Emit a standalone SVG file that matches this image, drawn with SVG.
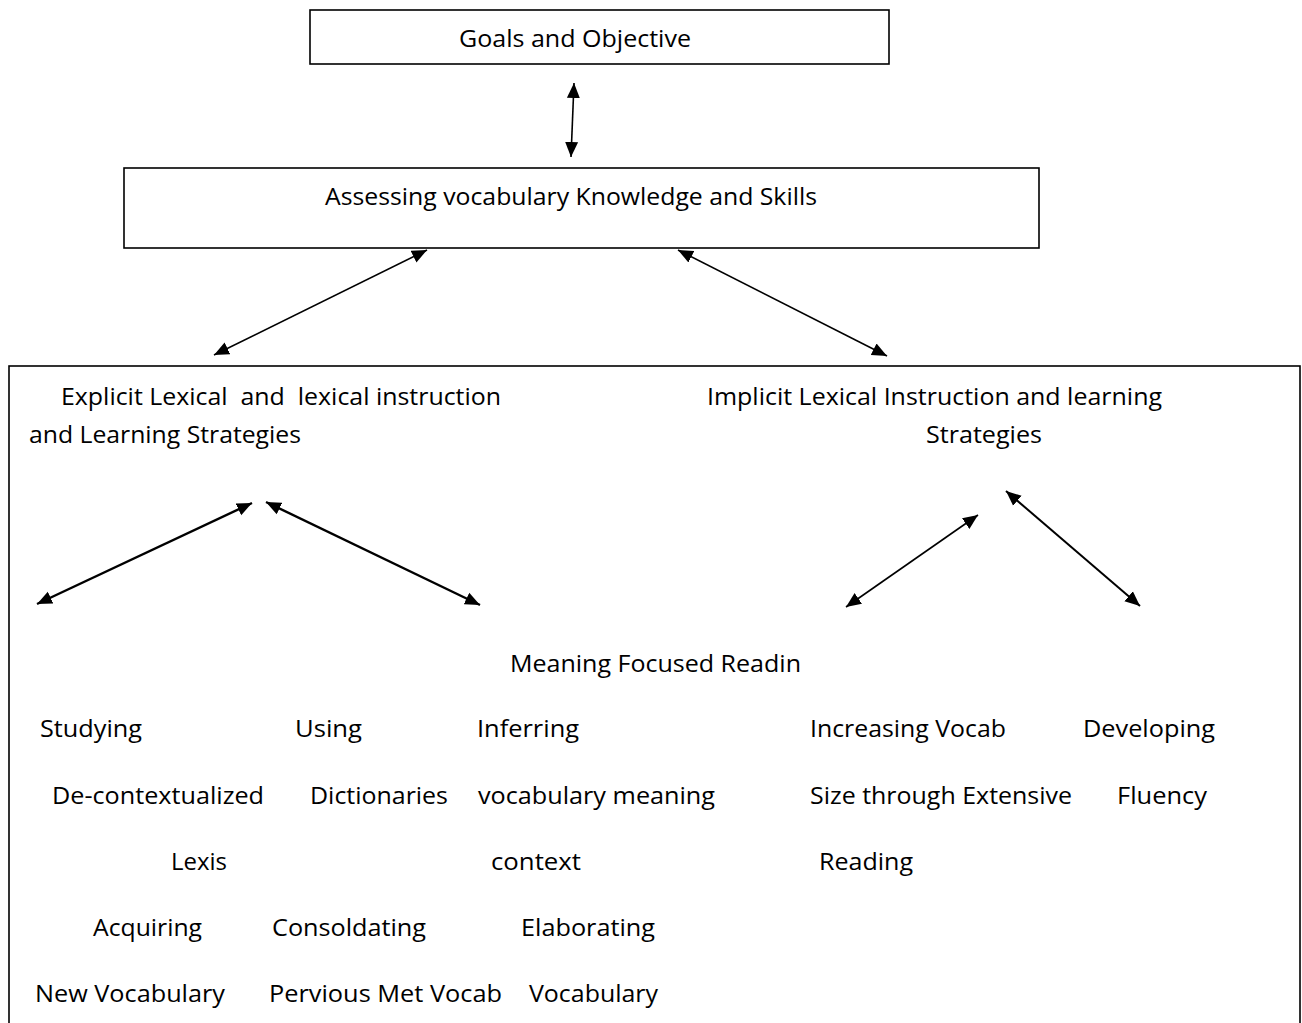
<svg xmlns="http://www.w3.org/2000/svg" width="1302" height="1023" viewBox="0 0 1302 1023">
<style>
text{font-family:"Open Sans","Noto Sans","Liberation Sans",sans-serif;font-size:23px;fill:#000;}
.box{fill:#fff;stroke:#000;stroke-width:1.6;}
.c{stroke:#000;fill:none;marker-start:url(#ah);marker-end:url(#ah);}
</style>
<defs>
<marker id="ah" markerUnits="userSpaceOnUse" markerWidth="16" markerHeight="14" refX="15" refY="6.5" orient="auto-start-reverse" viewBox="0 0 16 13">
<path d="M0,0 L15,6.5 L0,13 z" fill="#000"/>
</marker>
</defs>
<rect width="1302" height="1023" fill="#fff"/>
<g id="goals">
<rect class="box" x="310" y="10" width="579" height="54"/>
<text x="459" y="47" textLength="232" lengthAdjust="spacingAndGlyphs">Goals and Objective</text>
</g>
<g id="assessing">
<rect class="box" x="124" y="168" width="915" height="80"/>
<text x="325" y="205" textLength="492" lengthAdjust="spacingAndGlyphs">Assessing vocabulary Knowledge and Skills</text>
</g>
<g id="strategies">
<rect class="box" x="9" y="366" width="1291" height="670"/>
</g>
<g id="explicit">
<text x="61" y="405" textLength="440" lengthAdjust="spacingAndGlyphs" xml:space="preserve">Explicit Lexical  and  lexical instruction</text>
<text x="29" y="443" textLength="272" lengthAdjust="spacingAndGlyphs">and Learning Strategies</text>
</g>
<g id="implicit">
<text x="707" y="405" textLength="455" lengthAdjust="spacingAndGlyphs">Implicit Lexical Instruction and learning</text>
<text x="926" y="443" textLength="116" lengthAdjust="spacingAndGlyphs">Strategies</text>
</g>
<g id="meaning">
<text x="510" y="672" textLength="291" lengthAdjust="spacingAndGlyphs">Meaning Focused Readin</text>
</g>
<g id="studying">
<text x="40" y="737" textLength="102" lengthAdjust="spacingAndGlyphs">Studying</text>
<text x="52" y="804" textLength="212" lengthAdjust="spacingAndGlyphs">De-contextualized</text>
<text x="171" y="870" textLength="56" lengthAdjust="spacingAndGlyphs">Lexis</text>
</g>
<g id="using">
<text x="295" y="737" textLength="67" lengthAdjust="spacingAndGlyphs">Using</text>
<text x="310" y="804" textLength="138" lengthAdjust="spacingAndGlyphs">Dictionaries</text>
</g>
<g id="inferring">
<text x="477" y="737" textLength="102" lengthAdjust="spacingAndGlyphs">Inferring</text>
<text x="478" y="804" textLength="237" lengthAdjust="spacingAndGlyphs">vocabulary meaning</text>
<text x="491" y="870" textLength="90" lengthAdjust="spacingAndGlyphs">context</text>
</g>
<g id="increasing">
<text x="810" y="737" textLength="196" lengthAdjust="spacingAndGlyphs">Increasing Vocab</text>
<text x="810" y="804" textLength="262" lengthAdjust="spacingAndGlyphs">Size through Extensive</text>
<text x="819" y="870" textLength="94" lengthAdjust="spacingAndGlyphs">Reading</text>
</g>
<g id="developing">
<text x="1083" y="737" textLength="132" lengthAdjust="spacingAndGlyphs">Developing</text>
<text x="1117" y="804" textLength="90" lengthAdjust="spacingAndGlyphs">Fluency</text>
</g>
<g id="acquiring">
<text x="93" y="936" textLength="109" lengthAdjust="spacingAndGlyphs">Acquiring</text>
<text x="35" y="1002" textLength="190" lengthAdjust="spacingAndGlyphs">New Vocabulary</text>
</g>
<g id="consolidating">
<text x="272" y="936" textLength="154" lengthAdjust="spacingAndGlyphs">Consoldating</text>
<text x="269" y="1002" textLength="233" lengthAdjust="spacingAndGlyphs">Pervious Met Vocab</text>
</g>
<g id="elaborating">
<text x="521" y="936" textLength="134" lengthAdjust="spacingAndGlyphs">Elaborating</text>
<text x="529" y="1002" textLength="129" lengthAdjust="spacingAndGlyphs">Vocabulary</text>
</g>
<g id="connectors">
<line class="c" x1="574" y1="83" x2="571" y2="157" stroke-width="1.6"/>
<line class="c" x1="427" y1="250" x2="214" y2="355" stroke-width="1.6"/>
<line class="c" x1="678" y1="250" x2="887" y2="356" stroke-width="1.6"/>
<line class="c" x1="252" y1="503" x2="37" y2="604" stroke-width="2.4"/>
<line class="c" x1="266" y1="502" x2="480" y2="605" stroke-width="2.4"/>
<line class="c" x1="978" y1="515" x2="846" y2="607" stroke-width="1.6"/>
<line class="c" x1="1006" y1="491" x2="1140" y2="606" stroke-width="2"/>
</g>
</svg>
